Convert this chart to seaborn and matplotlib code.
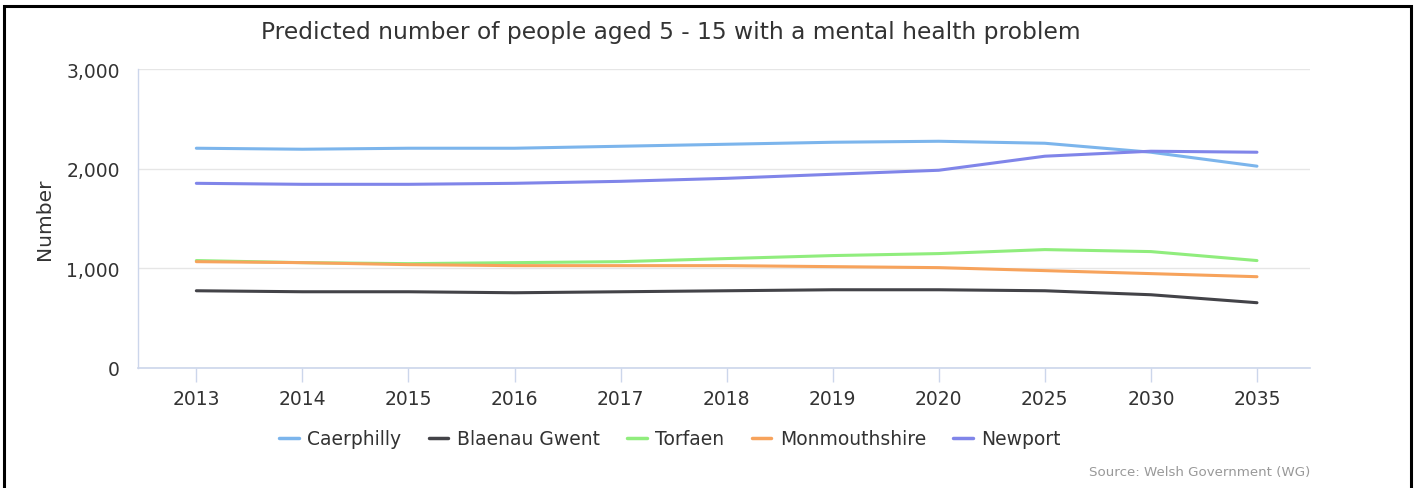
import matplotlib
matplotlib.use("Agg")
import matplotlib.pyplot as plt
import seaborn as sns
import pandas as pd
from matplotlib.patches import Rectangle

years = ["2013", "2014", "2015", "2016", "2017", "2018", "2019", "2020", "2025", "2030", "2035"]
caerphilly = [2205, 2195, 2205, 2205, 2225, 2245, 2265, 2275, 2255, 2165, 2025]
blaenau_gwent = [775, 765, 765, 755, 765, 775, 785, 785, 775, 735, 655]
torfaen = [1078, 1057, 1047, 1057, 1067, 1098, 1128, 1148, 1188, 1168, 1078]
monmouthshire = [1067, 1057, 1037, 1027, 1027, 1027, 1017, 1007, 977, 947, 916]
newport = [1853, 1843, 1843, 1853, 1873, 1903, 1944, 1984, 2125, 2175, 2165]

series_names = ["Caerphilly", "Blaenau Gwent", "Torfaen", "Monmouthshire", "Newport"]
series_values = [caerphilly, blaenau_gwent, torfaen, monmouthshire, newport]
colors = ["#7cb5ec", "#434348", "#90ed7d", "#f7a35c", "#8085e9"]

rows = []
for name, vals in zip(series_names, series_values):
    for y, v in zip(years, vals):
        rows.append({"Year": y, "Value": v, "Area": name})
df = pd.DataFrame(rows)

sns.set_theme(style="white")
plt.rcParams['font.family'] = ['DejaVu Sans']

W, H = 1415, 489
fig = plt.figure(figsize=(W / 100, H / 100), dpi=100)
ax = fig.add_axes([138 / W, 1 - 369 / H, (1310 - 138) / W, (369 - 70) / H])

sns.lineplot(data=df, x="Year", y="Value", hue="Area", hue_order=series_names,
             palette=colors, linewidth=2.2, sort=False, ax=ax, legend=False)

ax.set_xlim(-0.55, len(years) - 0.5)
ax.set_ylim(0, 3000)
ax.set_yticks([0, 1000, 2000, 3000])
ax.set_yticklabels(["0", "1,000", "2,000", "3,000"])
ax.set_xticks(range(len(years)))
ax.set_xticklabels(years)
ax.grid(axis="y", color="#e6e6e6", linewidth=1)
ax.set_axisbelow(True)
for s in ["top", "right"]:
    ax.spines[s].set_visible(False)
ax.spines["left"].set_color("#ccd6eb")
ax.spines["bottom"].set_color("#ccd6eb")
ax.spines["left"].set_linewidth(1)
ax.spines["bottom"].set_linewidth(1.2)
ax.tick_params(axis="x", colors="#ccd6eb", length=10, width=1, direction="out",
               labelcolor="#333333", labelsize=13.5, pad=5, bottom=True)
ax.tick_params(axis="y", length=0, labelcolor="#333333", labelsize=13.5, pad=13)
ax.set_xlabel("")
ax.set_ylabel("Number", fontsize=14.5, color="#333333", labelpad=9)

fig.text(671 / W, 1 - 32 / H, "Predicted number of people aged 5 - 15 with a mental health problem",
         ha="center", va="center", fontsize=16.8, color="#333333")

handles = [plt.Line2D([], [], color=c, linewidth=2.5) for c in colors]
fig.legend(handles, series_names, loc="center", bbox_to_anchor=(670 / W, 1 - 440 / H),
           ncol=5, frameon=False, fontsize=13.5, handlelength=1.05, handletextpad=0.45,
           columnspacing=1.45, labelcolor="#333333")

fig.text(1310 / W, 1 - 473 / H, "Source: Welsh Government (WG)", ha="right", va="center",
         fontsize=9.6, color="#999999")

fig.patches.append(Rectangle((4 / W, -0.1), (1411 - 4) / W, 1.1 - 7 / H,
                             transform=fig.transFigure, fill=False, edgecolor="black",
                             linewidth=2.2))

fig.savefig("out.png", dpi=100)
